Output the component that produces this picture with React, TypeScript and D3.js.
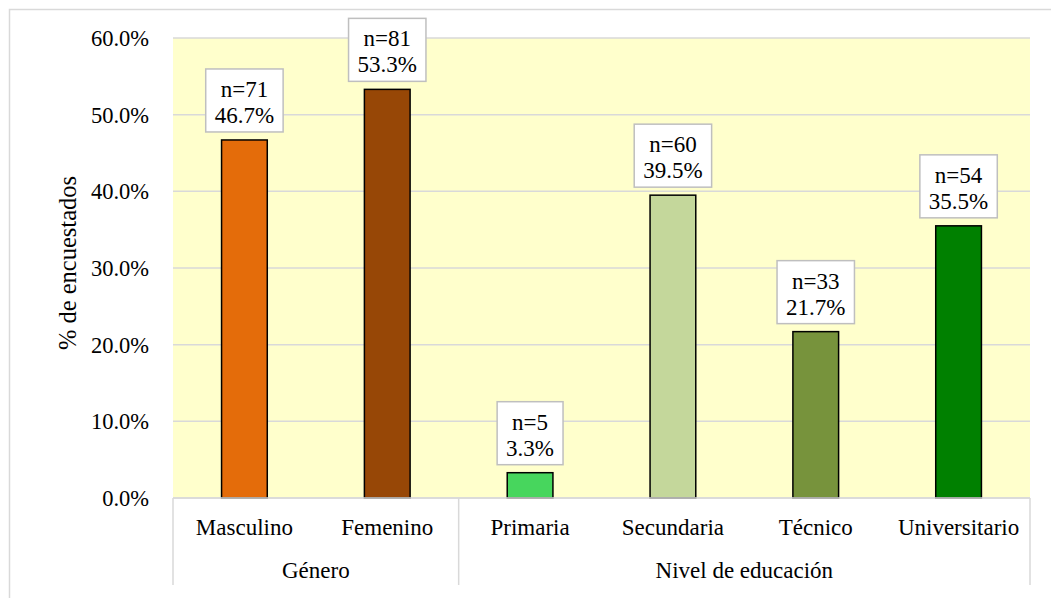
import React from "react";
import * as d3 from "d3";

const categories = ["Masculino", "Femenino", "Primaria", "Secundaria", "Técnico", "Universitario"];
const groups = [
  { name: "Género", count: 2 },
  { name: "Nivel de educación", count: 4 },
];
const values = [46.7, 53.3, 3.3, 39.5, 21.7, 35.5];
const counts = [71, 81, 5, 60, 33, 54];
const colors = ["#E46C0A", "#974706", "#47D65D", "#C4D79B", "#77933C", "#008000"];
const yTicks = [0, 10, 20, 30, 40, 50, 60];

const W = 1051;
const H = 598;
const plot = { left: 173, right: 1030, top: 38, bottom: 498 };
const FONT = "Liberation Serif, Times New Roman, DejaVu Serif, serif";

function textWidth(s: string, size: number) {
  const w: Record<string, number> = { ".": 0.25, "%": 0.833, "=": 0.564, n: 0.5 };
  let t = 0;
  for (const c of s) t += w[c] ?? 0.5;
  return t * size;
}

export default function App() {
  const x = d3.scaleBand<string>().domain(categories).range([plot.left, plot.right]).paddingInner(0).paddingOuter(0);
  const y = d3.scaleLinear().domain([0, 60]).range([plot.bottom, plot.top]);
  const bw = x.bandwidth() * 0.32;
  const labelSize = 23;

  let acc = 0;
  const groupBounds = groups.map((g) => {
    const start = acc;
    acc += g.count;
    return { ...g, x0: x(categories[start])!, x1: x(categories[acc - 1])! + x.bandwidth() };
  });

  return (
    <svg width={W} height={H} style={{ position: "absolute", left: 0, top: 0 }}>
      <rect x={0} y={0} width={W} height={H} fill="#fff" />
      <rect x={9.5} y={9.5} width={W + 20} height={H + 20} fill="none" stroke="#D9D9D9" strokeWidth={1.5} />
      <rect x={plot.left} y={plot.top} width={plot.right - plot.left} height={plot.bottom - plot.top} fill="#FFFFCC" />
      {yTicks.map((t) => (
        <g key={t}>
          <line x1={plot.left} x2={plot.right} y1={y(t)} y2={y(t)} stroke="#D9D9D9" strokeWidth={1.5} />
          <text x={149} y={y(t) + 8} textAnchor="end" fontSize={22.5} fontFamily={FONT} fill="#000">
            {t.toFixed(1)}%
          </text>
        </g>
      ))}
      <text
        transform={`translate(76, 263) rotate(-90)`}
        textAnchor="middle"
        fontSize={24.5}
        fontFamily={FONT}
        fill="#000"
      >
        % de encuestados
      </text>
      {categories.map((c, i) => {
        const cx = x(c)! + x.bandwidth() / 2;
        const top = y(values[i]);
        const l1 = `n=${counts[i]}`;
        const l2 = `${values[i].toFixed(1)}%`;
        const tw = Math.max(textWidth(l1, labelSize), textWidth(l2, labelSize));
        const bwid = tw + 18;
        const bh = 63;
        const by = top - 8 - bh;
        return (
          <g key={c}>
            <rect x={cx - bw / 2} y={top} width={bw} height={plot.bottom - top} fill={colors[i]} stroke="#000" strokeWidth={1.5} />
            <rect x={cx - bwid / 2} y={by} width={bwid} height={bh} fill="#fff" stroke="#BFBFBF" strokeWidth={1.5} />
            <text x={cx} y={by + 28} textAnchor="middle" fontSize={labelSize} fontFamily={FONT} fill="#000">{l1}</text>
            <text x={cx} y={by + 54} textAnchor="middle" fontSize={labelSize} fontFamily={FONT} fill="#000">{l2}</text>
            <text x={cx} y={535} textAnchor="middle" fontSize={23} fontFamily={FONT} fill="#000">{c}</text>
          </g>
        );
      })}
      <line x1={plot.left} x2={plot.right} y1={plot.bottom} y2={plot.bottom} stroke="#D9D9D9" strokeWidth={1.5} />
      {groupBounds.map((g, i) => (
        <g key={g.name}>
          <line x1={g.x0} x2={g.x0} y1={plot.bottom} y2={585} stroke="#D9D9D9" strokeWidth={1.5} />
          {i === groupBounds.length - 1 && (
            <line x1={g.x1} x2={g.x1} y1={plot.bottom} y2={585} stroke="#D9D9D9" strokeWidth={1.5} />
          )}
          <text x={(g.x0 + g.x1) / 2} y={578} textAnchor="middle" fontSize={23} fontFamily={FONT} fill="#000">{g.name}</text>
        </g>
      ))}
    </svg>
  );
}
